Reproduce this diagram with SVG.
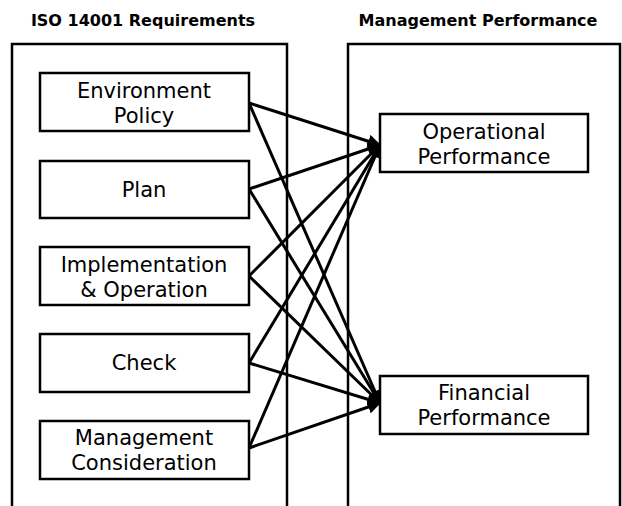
<svg xmlns="http://www.w3.org/2000/svg" width="622" height="506" viewBox="0 0 622 506">
<style>
.title{font-family:"DejaVu Sans","Liberation Sans",sans-serif;font-weight:bold;font-size:16px;fill:#000;text-anchor:middle}
.lbl{font-family:"DejaVu Sans","Liberation Sans",sans-serif;font-size:21px;fill:#000;text-anchor:middle}
.cont{fill:none;stroke:#000;stroke-width:2.5}
.box{fill:#fff;stroke:#000;stroke-width:2.5}
.con{stroke:#000;stroke-width:3;fill:none;marker-end:url(#ah)}
</style>
<defs>
<marker id="ah" viewBox="0 0 10 10" refX="9" refY="5" markerWidth="4.5" markerHeight="4.5" orient="auto" markerUnits="strokeWidth">
<path d="M0,0 L10,5 L0,10 z" fill="#000"/>
</marker>
</defs>
<rect width="622" height="506" fill="#fff"/>
<g id="titles">
<text class="title" x="143" y="26">ISO 14001 Requirements</text>
<text class="title" x="478" y="26">Management Performance</text>
</g>
<g id="containers">
<path class="cont" d="M287,510 V44 H12 V510"/>
<path class="cont" d="M620,510 V44 H348 V510"/>
</g>
<g id="connectors">
<line class="con" x1="249" y1="103" x2="380" y2="145"/>
<line class="con" x1="249" y1="103" x2="380" y2="403"/>
<line class="con" x1="249" y1="189" x2="380" y2="145"/>
<line class="con" x1="249" y1="189" x2="380" y2="403"/>
<line class="con" x1="249" y1="276" x2="380" y2="145"/>
<line class="con" x1="249" y1="276" x2="380" y2="403"/>
<line class="con" x1="249" y1="363" x2="380" y2="145"/>
<line class="con" x1="249" y1="363" x2="380" y2="403"/>
<line class="con" x1="249" y1="448" x2="380" y2="145"/>
<line class="con" x1="249" y1="448" x2="380" y2="403"/>
</g>
<g id="env">
<rect class="box" x="40" y="73" width="209" height="58"/>
<text class="lbl" x="144" y="98">Environment</text>
<text class="lbl" x="144" y="123">Policy</text>
</g>
<g id="plan">
<rect class="box" x="40" y="161" width="209" height="57"/>
<text class="lbl" x="144" y="197">Plan</text>
</g>
<g id="impl">
<rect class="box" x="40" y="247" width="209" height="58"/>
<text class="lbl" x="144" y="272">Implementation</text>
<text class="lbl" x="144" y="297">&amp; Operation</text>
</g>
<g id="check">
<rect class="box" x="40" y="334" width="209" height="58"/>
<text class="lbl" x="144" y="370">Check</text>
</g>
<g id="mgmt">
<rect class="box" x="40" y="421" width="209" height="58"/>
<text class="lbl" x="144" y="445">Management</text>
<text class="lbl" x="144" y="470">Consideration</text>
</g>
<g id="oper">
<rect class="box" x="380" y="114" width="208" height="58"/>
<text class="lbl" x="484" y="139">Operational</text>
<text class="lbl" x="484" y="164">Performance</text>
</g>
<g id="fin">
<rect class="box" x="380" y="376" width="208" height="58"/>
<text class="lbl" x="484" y="400">Financial</text>
<text class="lbl" x="484" y="425">Performance</text>
</g>
</svg>
